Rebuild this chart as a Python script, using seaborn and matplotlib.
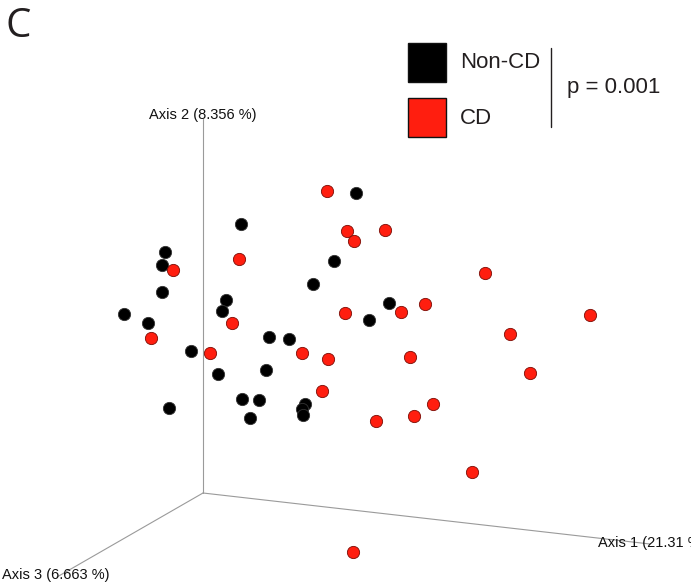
import matplotlib
matplotlib.use("Agg")
import matplotlib.pyplot as plt
import seaborn as sns
import pandas as pd
from matplotlib.patches import Rectangle

# Projected PCoA sample positions (screen plane of the 3D view)
noncd_x = [356, 241, 165, 162, 334, 313, 162, 226, 222, 124, 148, 369, 389,
           269, 289, 191, 218, 266, 242, 259, 169, 305, 302, 303, 250]
noncd_y = [193, 224, 252, 265, 261, 284, 292, 300, 311, 314, 323, 320, 303,
           337, 339, 351, 374, 370, 399, 400, 408, 404, 409, 415, 418]
cd_x = [327, 347, 385, 354, 173, 239, 345, 232, 151, 210, 302, 328, 322,
        376, 485, 425, 401, 590, 510, 410, 530, 433, 414, 472, 353]
cd_y = [191, 231, 230, 241, 270, 259, 313, 323, 338, 353, 353, 359, 391,
        421, 273, 304, 312, 315, 334, 357, 373, 404, 416, 472, 552]

groups = ["Non-CD", "CD"]
group_colors = ["#000000", "#ff1e0f"]
edge_colors = ["#333333", "#7a0c05"]
axis_labels = ["Axis 1 (21.31 %)", "Axis 2 (8.356 %)", "Axis 3 (6.663 %)"]
p_text = "p = 0.001"

df = pd.DataFrame({
    "x": noncd_x + cd_x,
    "y": noncd_y + cd_y,
    "group": [groups[0]] * len(noncd_x) + [groups[1]] * len(cd_x),
})

sns.set_style("white")
fig = plt.figure(figsize=(6.91, 5.87), dpi=100)
ax = fig.add_axes([0, 0, 1, 1])
ax.set_xlim(0, 691)
ax.set_ylim(587, 0)
ax.axis("off")

# 3D axis frame
origin = (203, 493)
axis_color = "#9a9a9a"
ax.plot([origin[0], 650], [origin[1], 544], color=axis_color, lw=0.8, zorder=1)
ax.plot([origin[0], 203], [origin[1], 119], color=axis_color, lw=0.8, zorder=1)
ax.plot([origin[0], 57], [origin[1], 577], color=axis_color, lw=0.8, zorder=1)

lab_font = dict(family="Liberation Sans", fontsize=10.5, color="#111111")
ax.text(598, 543, axis_labels[0], ha="left", va="center", **lab_font)
ax.text(203, 115, axis_labels[1], ha="center", va="center", **lab_font)
ax.text(2, 575, axis_labels[2], ha="left", va="center", **lab_font)

for g, c, ec in zip(groups, group_colors, edge_colors):
    sns.scatterplot(data=df[df["group"] == g], x="x", y="y", color=c,
                    s=78, edgecolor=ec, linewidth=0.6, legend=False,
                    ax=ax, zorder=3)

# Panel letter
ax.text(6, 27, "C", ha="left", va="center", fontsize=29, family="Open Sans",
        color="#231f20")

# Legend with test result
for i, (g, c) in enumerate(zip(groups, group_colors)):
    top = 43 + i * 55
    ax.add_patch(Rectangle((408, top), 38, 39, facecolor=c,
                           edgecolor="#111111", lw=1.0, zorder=4))
    ax.text(460, top + 20, g, ha="left", va="center", fontsize=16,
            family="Liberation Sans", color="#231f20")
ax.plot([551, 551], [48, 127], color="#231f20", lw=1.0)
ax.text(567, 88, p_text, ha="left", va="center", fontsize=16,
        family="Liberation Sans", color="#231f20")

fig.savefig("out.png", dpi=100)
